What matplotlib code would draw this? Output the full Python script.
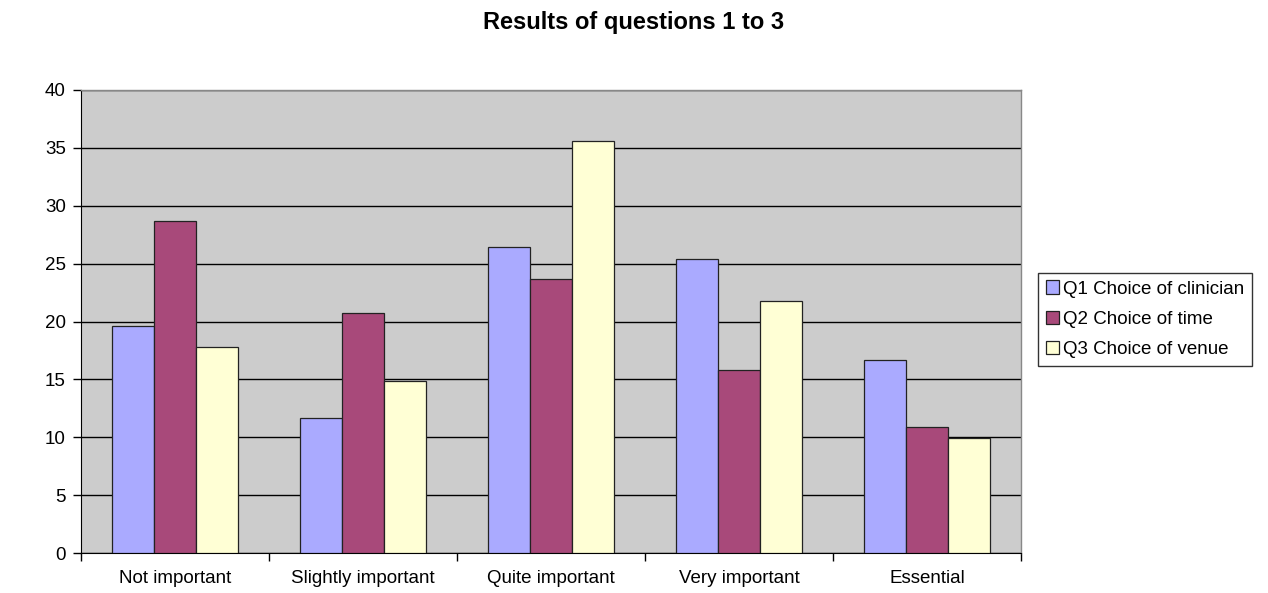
import matplotlib.pyplot as plt
import numpy as np

categories = ["Not important", "Slightly important", "Quite important", "Very important", "Essential"]
series_names = ["Q1 Choice of clinician", "Q2 Choice of time", "Q3 Choice of venue"]
q1_clinician = [19.6, 11.7, 26.4, 25.4, 16.7]
q2_time = [28.7, 20.7, 23.7, 15.8, 10.9]
q3_venue = [17.8, 14.9, 35.6, 21.8, 9.9]
colors = ["#AAAAFF", "#A8497A", "#FFFFD5"]

plt.rcParams['font.family'] = ['Liberation Sans', 'DejaVu Sans']

fig = plt.figure(figsize=(12.68, 5.93), dpi=100)
ax = fig.add_axes([81 / 1268, 40 / 593, (1021 - 81) / 1268, (553 - 90) / 593])
ax.set_facecolor("#CCCCCC")

x = np.arange(len(categories))
width = 0.223
for i, (vals, name, col) in enumerate(zip([q1_clinician, q2_time, q3_venue], series_names, colors)):
    ax.bar(x + (i - 1) * width, vals, width, color=col, edgecolor="#222222",
           linewidth=0.9, label=name, zorder=3)

ax.set_xlim(-0.5, len(categories) - 0.5)
ax.set_ylim(0, 40)
ax.set_yticks(range(0, 41, 5))
ax.yaxis.grid(True, color="black", linewidth=1.0, zorder=1)
ax.set_axisbelow(True)

ax.set_xticks(x)
ax.set_xticklabels(categories, fontsize=13.5)
ax.tick_params(axis='x', length=0, pad=12)
ax.set_xticks(np.arange(-0.5, len(categories), 1.0), minor=True)
ax.tick_params(axis='x', which='minor', length=6, width=1, direction='out')
ax.tick_params(axis='y', length=6, width=1, direction='out', labelsize=13.5, pad=5)

for side in ["top", "right"]:
    ax.spines[side].set_color("#888888")
    ax.spines[side].set_linewidth(1.0)
ax.spines["left"].set_color("black")
ax.spines["bottom"].set_color("black")

ax.set_ylabel("Percentages", fontsize=12, fontweight="bold")
ax.yaxis.label.set_transform(fig.transFigure)
ax.yaxis.label.set_position((18 / 1268, 1 - 276 / 593))

fig.text(0.5, 0.962, "Results of questions 1 to 3", ha="center", va="center",
         fontsize=17, fontweight="bold")

leg = fig.legend(loc="upper left", bbox_to_anchor=(1038 / 1268, 1 - 273 / 593),
                 fontsize=13.5, frameon=True, fancybox=False, edgecolor="black",
                 handlelength=0.7, handleheight=0.7, handletextpad=0.25,
                 labelspacing=0.7, borderpad=0.4, borderaxespad=0)
leg.get_frame().set_linewidth(1.0)

fig.savefig("out.png", dpi=100, facecolor="white")
